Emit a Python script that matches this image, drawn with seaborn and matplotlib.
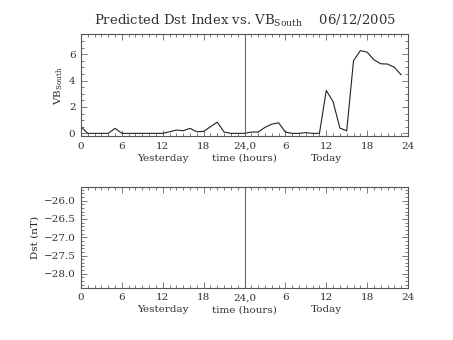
import matplotlib
matplotlib.use("Agg")
import matplotlib.pyplot as plt
import seaborn as sns
import numpy as np
import pandas as pd
from matplotlib.ticker import MultipleLocator

# Hourly VB_south over two days (0-23 yesterday, 24-47 today)
hours = list(range(48))
vb_south = [0.5, 0.0, 0.0, 0.0, 0.0, 0.38, 0.0, 0.0, 0.0, 0.0, 0.0, 0.0,
            0.0, 0.12, 0.25, 0.2, 0.38, 0.12, 0.15, 0.5, 0.85, 0.1, 0.0, 0.0,
            0.0, 0.1, 0.1, 0.45, 0.7, 0.8, 0.1, 0.0, 0.0, 0.05, 0.0, 0.0,
            3.25, 2.4, 0.4, 0.19, 5.5, 6.27, 6.15, 5.57, 5.27, 5.25, 5.0, 4.43]

xtick_pos = [0, 6, 12, 18, 24, 30, 36, 42, 48]
xtick_labels = ["0", "6", "12", "18", "24,0", "6", "12", "18", "24"]
dst_ticks = [-26.0, -26.5, -27.0, -27.5, -28.0]

sns.set_theme(style="white")
plt.rcParams["font.family"] = ["DejaVu Serif"]
INK = "#333333"
plt.rcParams.update({
    "axes.edgecolor": "#555555",
    "axes.linewidth": 0.8,
    "xtick.color": "#666666",
    "ytick.color": "#666666",
    "xtick.labelcolor": INK,
    "ytick.labelcolor": INK,
    "text.color": INK,
})

fig = plt.figure(figsize=(4.53, 3.40), dpi=100)
ax1 = fig.add_axes([0.1788, 0.600, 0.7219, 0.299])
ax2 = fig.add_axes([0.1788, 0.1538, 0.7219, 0.297])

df = pd.DataFrame({"hour": hours, "vb": vb_south})
sns.lineplot(data=df, x="hour", y="vb", ax=ax1, color="#222222", linewidth=0.8)

fs = 7.5
for ax in (ax1, ax2):
    ax.set_xlim(0, 48)
    ax.set_xticks(xtick_pos)
    ax.set_xticklabels(xtick_labels, fontsize=fs)
    ax.xaxis.set_minor_locator(MultipleLocator(1))
    ax.tick_params(which="both", direction="in", bottom=True, left=True,
                   top=True, right=True, width=0.6, pad=4)
    ax.tick_params(which="major", length=4)
    ax.tick_params(which="minor", length=2)
    ax.axvline(24, color="#666666", linewidth=0.8)
    ax.set_xlabel("")
    for xpos, label in ((12, "Yesterday"), (24, "time (hours)"), (36, "Today")):
        ax.text(xpos, -0.245, label, transform=ax.get_xaxis_transform(),
                ha="center", va="baseline", fontsize=fs)

ax1.set_ylim(-0.2, 7.5)
ax1.set_yticks([0, 2, 4, 6])
ax1.yaxis.set_minor_locator(MultipleLocator(0.5))
ax1.tick_params(axis="y", labelsize=fs)
ax1.set_ylabel(r"VB$_{\mathregular{South}}$", fontsize=fs, labelpad=3)

ax2.set_ylim(-28.38, -25.62)
ax2.set_yticks(dst_ticks)
ax2.set_yticklabels([f"\u2212{abs(v):.1f}" for v in dst_ticks], fontsize=fs)
ax2.yaxis.set_minor_locator(MultipleLocator(0.1))
ax2.set_ylabel("Dst (nT)", fontsize=fs, labelpad=3)

fig.text(0.54, 0.928, r"Predicted Dst Index vs. VB$_{\mathregular{South}}$    06/12/2005",
         ha="center", va="baseline", fontsize=9.5)

fig.savefig("out.png", dpi=100)
